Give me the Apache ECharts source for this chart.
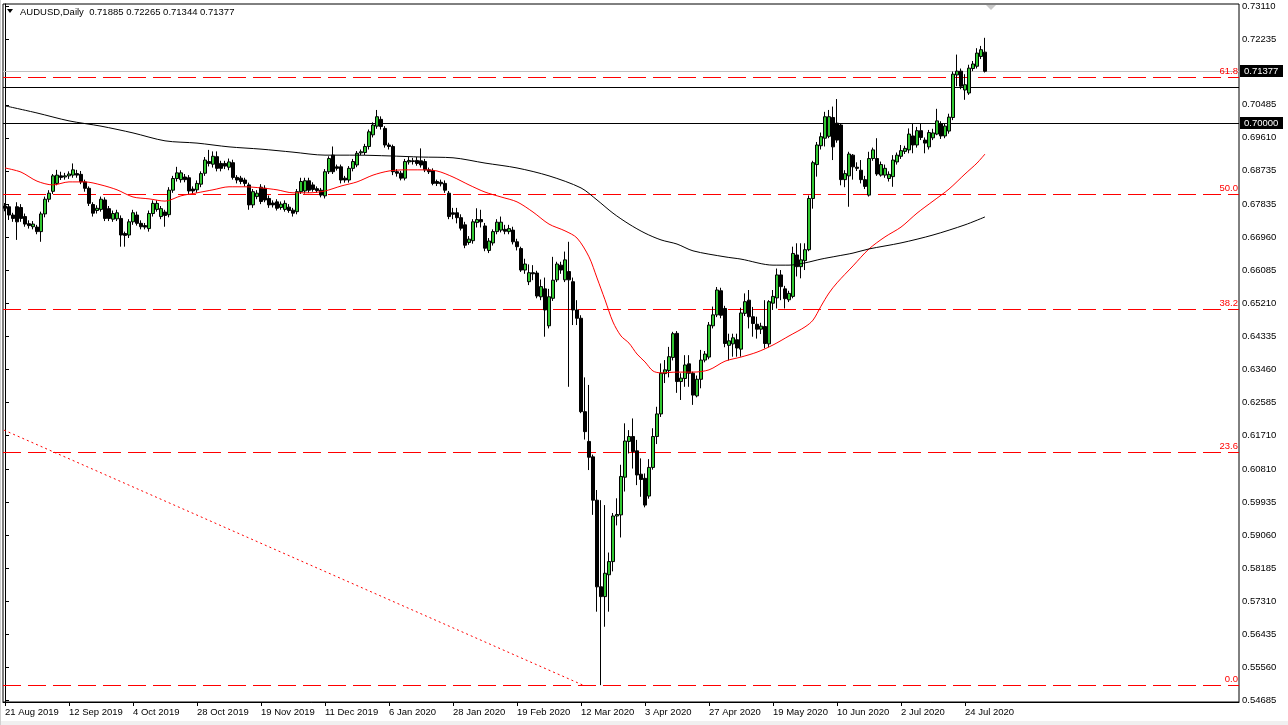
<!DOCTYPE html>
<html><head><meta charset="utf-8">
<script src="https://cdn.jsdelivr.net/npm/echarts@6/dist/echarts.min.js"></script>
<style>html,body{margin:0;padding:0;background:#fff;}#c{width:1288px;height:725px;}</style>
</head><body><div id="c"></div>
<script>
// ---- data (AUDUSD daily, 21 Aug 2019 .. 31 Jul 2020) ----
const opens = [.6780,.6778,.6756,.6778,.6776,.6752,.6733,.6725,.6724,.6712,.6759,.6798,.6819,.6840,.6860,.6857,.6860,.6862,.6866,.6864,
.6844,.6827,.6784,.6768,.6771,.6796,.6773,.6745,.6746,.6747,.6707,.6703,.6738,.6756,.6734,.6728,.6720,.6760,.6771,.6752,
.6764,.6757,.6822,.6853,.6850,.6857,.6855,.6825,.6823,.6838,.6867,.6898,.6891,.6911,.6893,.6893,.6883,.6895,.6856,.6854,
.6849,.6836,.6783,.6805,.6830,.6827,.6800,.6788,.6791,.6776,.6771,.6777,.6769,.6765,.6818,.6820,.6847,.6836,.6826,.6822,
.6807,.6871,.6915,.6884,.6884,.6854,.6849,.6880,.6889,.6921,.6922,.6938,.6969,.6992,.7010,.6986,.6942,.6938,.6871,.6867,
.6854,.6897,.6900,.6901,.6900,.6898,.6876,.6874,.6845,.6843,.6840,.6814,.6762,.6762,.6749,.6730,.6683,.6688,.6736,.6744,
.6727,.6662,.6682,.6712,.6716,.6718,.6712,.6716,.6685,.6667,.6610,.6579,.6603,.6602,.6539,.6560,.6462,.6535,.6584,.6623,
.6584,.6606,.6579,.6504,.6482,.6234,.6155,.6114,.5999,.5769,.5743,.5801,.5836,.5957,.5960,.6060,.6155,.6168,.6130,.6068,
.6057,.6010,.6086,.6168,.6228,.6335,.6343,.6378,.6442,.6314,.6322,.6361,.6336,.6276,.6320,.6371,.6379,.6462,.6491,.6555,
.6508,.6410,.6414,.6425,.6400,.6495,.6530,.6486,.6466,.6453,.6460,.6414,.6522,.6536,.6597,.6560,.6531,.6540,.6650,.6619,
.6635,.6664,.6800,.6890,.6940,.6960,.6965,.7015,.7000,.6995,.6850,.6860,.6915,.6883,.6875,.6850,.6809,.6906,.6906,.6862,
.6862,.6853,.6858,.6897,.6912,.6925,.6929,.6966,.6942,.6980,.6955,.6937,.6961,.6971,.6998,.6966,.6979,.7015,.7128,.7138,
.7088,.7080,.7145,.7151,.7177,.71885];
const highs = [.6788,.6785,.6762,.6790,.6785,.6760,.6742,.6740,.6730,.6765,.6805,.6822,.6865,.6876,.6871,.6868,.6872,.6893,.6876,.6873,
.6850,.6832,.6790,.6782,.6805,.6803,.6780,.6768,.6770,.6755,.6712,.6745,.6770,.6765,.6742,.6735,.6768,.6795,.6795,.6780,
.6770,.6830,.6860,.6884,.6875,.6865,.6862,.6832,.6848,.6872,.6910,.6929,.6925,.6925,.6900,.6900,.6906,.6903,.6862,.6860,
.6855,.6842,.6825,.6822,.6838,.6835,.6808,.6795,.6798,.6792,.6795,.6785,.6775,.6825,.6855,.6855,.6855,.6843,.6832,.6828,
.6878,.6912,.6938,.6890,.6890,.6860,.6886,.6905,.6926,.6930,.6945,.6983,.7002,.7035,.7018,.6992,.6948,.6943,.6878,.6873,
.6905,.6910,.6908,.6910,.6933,.6905,.6882,.6880,.6850,.6850,.6848,.6820,.6775,.6775,.6758,.6738,.6700,.6745,.6774,.6770,
.6735,.6695,.6718,.6745,.6752,.6730,.6730,.6725,.6693,.6672,.6640,.6625,.6623,.6608,.6585,.6590,.6560,.6645,.6632,.6632,
.6659,.6685,.6590,.6530,.6490,.6325,.6305,.6120,.6026,.5999,.5986,.5860,.5965,.6004,.6093,.6203,.6185,.6216,.6159,.6110,
.6070,.6108,.6190,.6247,.6362,.6371,.6406,.6446,.6448,.6336,.6384,.6384,.6340,.6330,.6398,.6395,.6472,.6513,.6565,.6563,
.6515,.6441,.6441,.6441,.6510,.6548,.6557,.6512,.6486,.6470,.6530,.6530,.6557,.6614,.6610,.6568,.6555,.6672,.6681,.6681,
.6681,.6808,.6900,.6950,.6975,.7030,.7035,.7044,.7064,.7000,.6875,.6924,.6918,.6896,.6902,.6860,.6924,.6935,.6960,.6898,
.6890,.6872,.6915,.6922,.6942,.6940,.6986,.7000,.6990,.7000,.6962,.6982,.6985,.7038,.7005,.7000,.7025,.7137,.7182,.7145,
.7130,.7155,.7165,.7199,.7205,.72265];
const lows = [.6766,.6743,.6738,.6690,.6738,.6725,.6720,.6718,.6705,.6685,.6750,.6790,.6812,.6835,.6849,.6850,.6852,.6855,.6855,.6838,
.6818,.6780,.6752,.6760,.6765,.6740,.6740,.6738,.6740,.6672,.6672,.6695,.6730,.6728,.6718,.6718,.6712,.6752,.6765,.6745,
.6725,.6750,.6815,.6845,.6842,.6843,.6812,.6812,.6815,.6830,.6860,.6885,.6882,.6872,.6872,.6878,.6875,.6850,.6840,.6838,
.6832,.6770,.6775,.6798,.6785,.6790,.6775,.6776,.6768,.6770,.6765,.6762,.6752,.6758,.6812,.6813,.6815,.6818,.6815,.6803,
.6800,.6865,.6865,.6874,.6840,.6842,.6842,.6872,.6883,.6915,.6915,.6930,.6962,.6985,.6983,.6935,.6930,.6862,.6858,.6848,
.6848,.6890,.6890,.6887,.6882,.6870,.6865,.6835,.6833,.6832,.6815,.6745,.6745,.6734,.6715,.6668,.6677,.6680,.6723,.6723,
.6660,.6655,.6675,.6705,.6710,.6705,.6705,.6678,.6662,.6605,.6600,.6570,.6583,.6535,.6530,.6433,.6455,.6528,.6578,.6600,
.6578,.6300,.6464,.6464,.6230,.6160,.6079,.5960,.5703,.5508,.5663,.5703,.5810,.5932,.5900,.6022,.6123,.6083,.6039,.6008,
.5980,.6003,.6080,.6148,.6220,.6310,.6325,.6370,.6284,.6265,.6300,.6300,.6252,.6272,.6296,.6365,.6373,.6455,.6485,.6482,
.6405,.6370,.6380,.6380,.6380,.6488,.6455,.6433,.6428,.6440,.6402,.6405,.6504,.6508,.6530,.6508,.6525,.6535,.6593,.6588,
.6610,.6660,.6773,.6858,.6930,.6938,.6960,.6902,.6948,.6835,.6830,.6778,.6850,.6873,.6840,.6825,.6805,.6900,.6860,.6858,
.6855,.6845,.6831,.6890,.6905,.6918,.6920,.6920,.6935,.6955,.6920,.6930,.6955,.6968,.6958,.6960,.6972,.7008,.7098,.7090,
.7062,.7075,.7138,.7145,.7170,.71344];
const closes = [.6774,.6756,.6747,.6738,.6747,.6732,.6728,.6732,.6712,.6759,.6798,.6814,.6860,.6862,.6856,.6860,.6865,.6876,.6862,.6844,
.6827,.6787,.6761,.6774,.6798,.6747,.6747,.6760,.6762,.6703,.6702,.6738,.6762,.6734,.6725,.6724,.6760,.6787,.6787,.6773,
.6755,.6822,.6853,.6868,.6868,.6850,.6820,.6820,.6840,.6866,.6902,.6893,.6912,.6880,.6880,.6886,.6897,.6856,.6849,.6845,
.6840,.6783,.6818,.6814,.6792,.6796,.6783,.6783,.6774,.6785,.6787,.6768,.6761,.6818,.6845,.6847,.6822,.6824,.6821,.6809,
.6871,.6906,.6871,.6880,.6849,.6849,.6880,.6898,.6920,.6924,.6938,.6977,.6995,.7017,.6991,.6942,.6938,.6871,.6867,.6854,
.6898,.6901,.6898,.6893,.6889,.6876,.6871,.6840,.6840,.6839,.6822,.6752,.6758,.6749,.6721,.6676,.6692,.6738,.6744,.6738,
.6668,.6687,.6712,.6737,.6737,.6713,.6720,.6685,.6672,.6610,.6626,.6603,.6600,.6541,.6566,.6504,.6539,.6583,.6626,.6610,
.6637,.6584,.6504,.6482,.6234,.6181,.6113,.5999,.5769,.5743,.5805,.5836,.5957,.5961,.6062,.6156,.6168,.6128,.6066,.6054,
.5986,.6086,.6168,.6228,.6336,.6345,.6380,.6441,.6314,.6323,.6358,.6336,.6278,.6320,.6371,.6387,.6464,.6491,.6557,.6490,
.6415,.6422,.6430,.6403,.6496,.6526,.6486,.6468,.6453,.6461,.6415,.6526,.6540,.6597,.6566,.6534,.6548,.6654,.6619,.6637,
.6664,.6800,.6895,.6942,.6964,.7017,.7017,.6937,.6955,.6850,.6866,.6918,.6884,.6880,.6850,.6832,.6906,.6929,.6865,.6890,
.6880,.6864,.6902,.6915,.6927,.6933,.6971,.6942,.6980,.6962,.6947,.6975,.6974,.7006,.6966,.6992,.7016,.7130,.7138,.7098,
.7102,.7146,.7157,.7186,.7195,.71377];

const totalSlots = 309;                       // chart width in bar slots (incl. right shift)
const tickLabels = ['21 Aug 2019','12 Sep 2019','4 Oct 2019','28 Oct 2019','19 Nov 2019','11 Dec 2019','6 Jan 2020',
  '28 Jan 2020','19 Feb 2020','12 Mar 2020','3 Apr 2020','27 Apr 2020','19 May 2020','10 Jun 2020','2 Jul 2020','24 Jul 2020'];
const tickBarIndex = [0,16,32,48,64,80,96,112,128,144,160,176,192,208,224,240];
const yTickValues = [0.73110,0.72235,0.70485,0.69610,0.68735,0.67835,0.66960,0.66085,0.65210,0.64335,0.63460,
  0.62585,0.61710,0.60810,0.59935,0.59060,0.58185,0.57310,0.56435,0.55560,0.54685];

// moving averages at bar indices
const redMaIdx = [0,4,8,12,16,20,24,28,32,36,40,44,48,52,56,60,64,68,72,76,80,84,88,92,96,100,104,108,112,116,120,124,128,132,136,140,143,146,148,150,152,154,156,158,160,162,164,168,172,176,180,184,188,192,196,200,202,204,206,208,212,216,220,224,228,232,236,240,243,245];
const redMaVal = [.6881,.6870,.6846,.6836,.6844,.6844,.6836,.6823,.6804,.6799,.6793,.6807,.6815,.6823,.6831,.6831,.6828,.6823,.6815,.6815,
  .6820,.6833,.6844,.6862,.6873,.6876,.6876,.6873,.6857,.6836,.6817,.6804,.6791,.6764,.6732,.6714,.6695,.6645,.6589,.6531,
  .6472,.6435,.6416,.6387,.6366,.6342,.6337,.6339,.6339,.6345,.6368,.6379,.6392,.6411,.6435,.6459,.6477,.6514,.6549,.6576,
  .6621,.6666,.6698,.6724,.6761,.6793,.6825,.6865,.6894,.6918];
const blackMaIdx = [0,8,16,24,32,40,48,56,64,72,80,88,96,104,112,120,128,136,144,148,152,156,160,164,168,172,180,184,192,196,200,204,208,212,216,224,232,240,245];
const blackMaVal = [.7046,.7027,.7006,.6992,.6974,.6953,.6947,.6937,.6931,.6923,.6915,.6915,.6913,.6910,.6908,.6894,.6881,.6860,.6828,.6796,
  .6761,.6732,.6708,.6690,.6679,.6661,.6645,.6639,.6623,.6623,.6629,.6639,.6647,.6655,.6666,.6682,.6703,.6730,.6751];

// Fibonacci object
const fibNames = ['0.0','23.6','38.2','50.0','61.8'];
const fibValues = [0.5508,0.6126,0.6507,0.6812,0.7123];
const fibTrendIdx = [-0.25,144.5];
const fibTrendVal = [0.6185,0.5508];
// horizontal lines
const hLines = [0.70000,0.7096];
const bidPrice = 0.71377;
const headerText = 'AUDUSD,Daily  0.71885 0.72265 0.71344 0.71377';

// ---- chart ----
const FONT = '"Liberation Sans", Arial, sans-serif';
const FS = 9.5;
const candles = opens.map((o,i)=>[o, closes[i], lows[i], highs[i]]);
const categories = Array.from({length: totalSlots}, (_, i) => String(i));
const labelMap = {};
tickBarIndex.forEach((b,k)=>{ labelMap[b] = tickLabels[k]; });
const xLeft = -0.5, xRight = totalSlots - 0.5;

const chart = echarts.init(document.getElementById('c'), null, {renderer:'canvas'});
const series = [];
series.push({type:'line', xAxisIndex:1, data:fibTrendIdx.map((x,k)=>[x, fibTrendVal[k]]), showSymbol:false, silent:true, z:1,
     lineStyle:{color:'#ff0000', width:1, type:[2,3]}});
series.push({
  type:'candlestick', xAxisIndex:0, data:candles, barWidth:3, z:3,
  itemStyle:{color:'#32c832', color0:'#000000', borderColor:'#000000', borderColor0:'#000000', borderWidth:1}
});
series.push({type:'line', xAxisIndex:1, data:redMaIdx.map((x,k)=>[x, redMaVal[k]]), smooth:0.3, showSymbol:false, silent:true, z:4,
     lineStyle:{color:'#ff0000', width:1}});
series.push({type:'line', xAxisIndex:1, data:blackMaIdx.map((x,k)=>[x, blackMaVal[k]]), smooth:0.3, showSymbol:false, silent:true, z:4,
     lineStyle:{color:'#000000', width:1}});

chart.setOption({
  animation:false,
  backgroundColor:'#ffffff',
  grid:{left:3, right:49, top:4, bottom:23, show:true, borderColor:'#000', borderWidth:1},
  xAxis:[{
    type:'category', data:categories, boundaryGap:true,
    axisLine:{show:true, lineStyle:{color:'#000', width:1}},
    axisTick:{show:true, alignWithLabel:true, length:4, lineStyle:{color:'#000'},
              interval:(i)=> labelMap[i] !== undefined},
    axisLabel:{interval:(i)=> labelMap[i] !== undefined, formatter:(v,i)=> labelMap[i] || '',
               align:'left', margin:5, color:'#000', fontSize:FS, fontFamily:FONT},
    splitLine:{show:false}
  },{
    type:'value', min:xLeft, max:xRight, show:false
  }],
  yAxis:{
    type:'value', position:'right', min:0.54632, max:0.73163, scale:true,
    axisLine:{show:true, lineStyle:{color:'#000', width:1}},
    axisTick:{show:true, length:4, lineStyle:{color:'#000'}, customValues:yTickValues},
    axisLabel:{customValues:yTickValues, formatter:(v)=> Number(v).toFixed(5), margin:3,
               color:'#000', fontSize:FS, fontFamily:FONT},
    splitLine:{show:false}
  },
  series: series
});

// horizontal chart objects, positioned through the axis scale and snapped to whole pixels
const gx0 = chart.convertToPixel({xAxisIndex:1}, xLeft);
const gx1 = chart.convertToPixel({xAxisIndex:1}, xRight);
function py(v){ return Math.round(chart.convertToPixel({yAxisIndex:0}, v)); }
function hLine(v, color, dash){
  const y = py(v) + 0.5;
  const st = {stroke:color, lineWidth:1};
  if (dash) st.lineDash = dash;
  return {type:'line', silent:true, z:1, shape:{x1:gx0, y1:y, x2:gx1, y2:y}, style:st};
}
function priceBox(v){
  const y = py(v);
  return [
    {type:'rect', shape:{x:1240, y:y-6, width:43, height:12}, style:{fill:'#000'}, z:10},
    {type:'text', x:1244, y:y, style:{text:v.toFixed(5), fill:'#fff', font:FS+'px '+FONT, verticalAlign:'middle'}, z:11}
  ];
}
function fibLabel(v, name){
  const y = py(v);
  return {type:'text', x:1238, y:y-1, style:{text:name, fill:'#ff0000', font:FS+'px '+FONT, align:'right', verticalAlign:'bottom'}, z:10};
}
const objs = [hLine(bidPrice, '#c0c0c0', null)]
  .concat(hLines.map(v=>hLine(v, '#000000', null)))
  .concat(fibValues.map(v=>hLine(v, '#ff0000', [18,7])));
chart.setOption({graphic: objs.concat([
  {type:'polygon', shape:{points:[[7,9],[13,9],[10,13]]}, style:{fill:'#000'}},
  {type:'text', x:20, y:12, style:{text:headerText, fill:'#000', font:FS+'px '+FONT, verticalAlign:'middle'}},
  {type:'polygon', shape:{points:[[986,5],[996,5],[991,10]]}, style:{fill:'#c8c8c8'}},
  {type:'rect', shape:{x:0, y:721, width:1288, height:4}, style:{fill:'#f0f0f0'}},
  {type:'rect', shape:{x:0, y:0, width:1, height:725}, style:{fill:'#d0d0d0'}}
]).concat(priceBox(bidPrice)).concat(priceBox(0.70000)).concat(fibValues.map((v,k)=>fibLabel(v, fibNames[k])))});
</script></body></html>
